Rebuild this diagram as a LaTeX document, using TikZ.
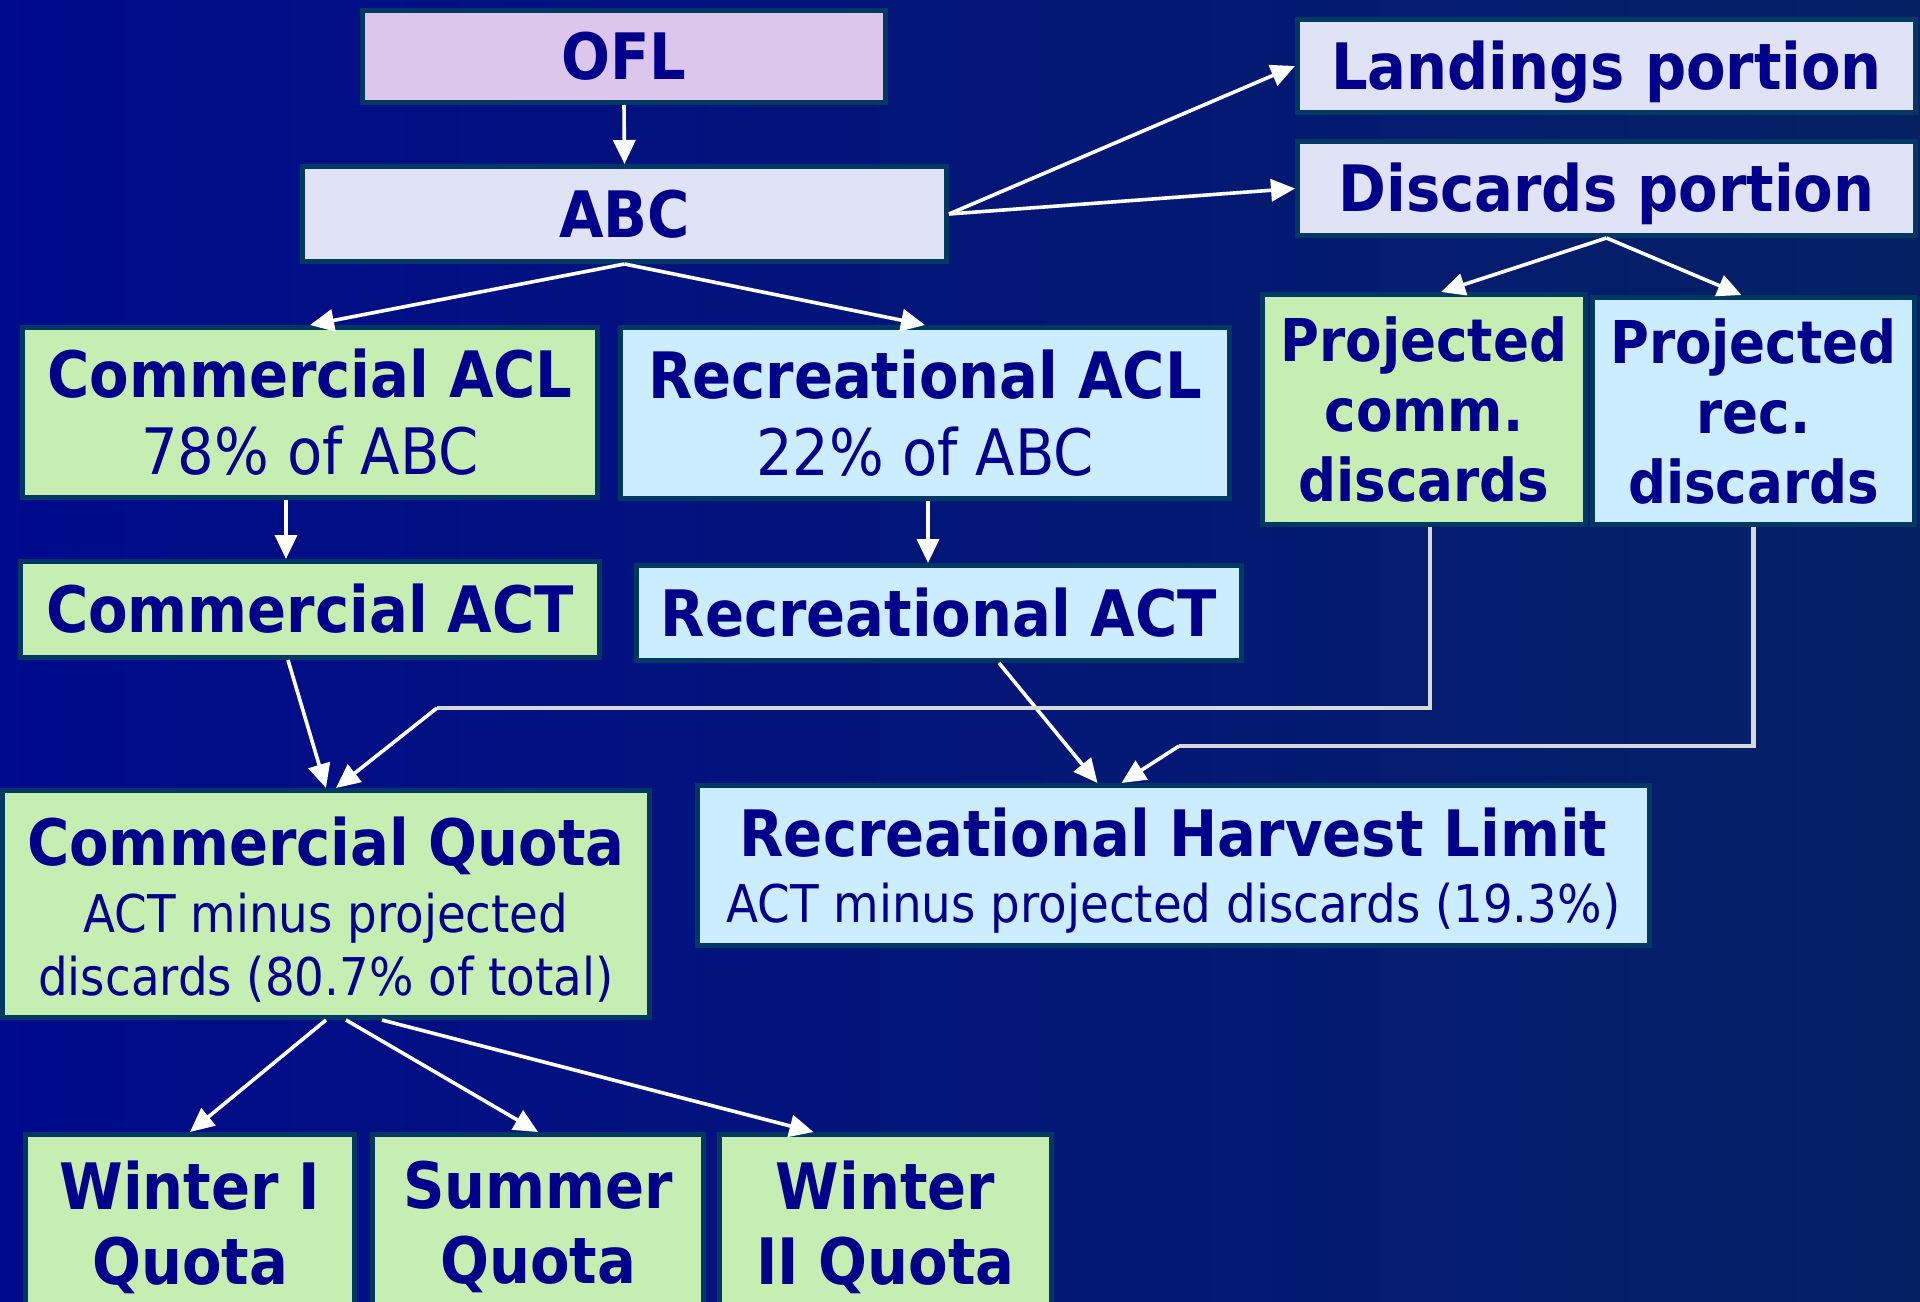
\documentclass[tikz,border=0pt]{standalone}
\usepackage{fontspec}
\setmainfont{DejaVu Sans Condensed}
\usepackage{xcolor}
\usepackage{tikz}
\usetikzlibrary{positioning, calc, arrows.meta}
\definecolor{BgLeft}{RGB}{0,10,140}
\definecolor{BgRight}{RGB}{5,33,100}
\definecolor{QuotaNavy}{RGB}{0,0,139}
\definecolor{QuotaEdge}{RGB}{0,56,100}
\definecolor{OFLPurple}{RGB}{220,198,236}
\definecolor{ABCLavender}{RGB}{224,226,245}
\definecolor{CommGreen}{RGB}{198,238,178}
\definecolor{RecBlue}{RGB}{204,236,255}
\definecolor{LinkGray}{RGB}{216,216,216}
\newcommand{\boxtitle}{\bfseries\fontsize{32}{38.5}\selectfont}
\newcommand{\toppad}{\rule{0pt}{29.5pt}}
\tikzset{
    quotabox/.style={
        draw=QuotaEdge, line width=2.5pt, inner sep=0pt, text=QuotaNavy, align=center
    },
    oneline/.style={
        text height=23.3pt, text depth=0pt
    },
    flow/.style={
        -{Triangle[length=12pt,width=11pt]}, white, line width=1.8pt
    },
    link/.style={
        LinkGray, line width=2.2pt
    }
}
\begin{document}
\begin{tikzpicture}[
            x=0.5pt, y=-0.5pt,
            % box kinds
            comm/.style={quotabox, fill=CommGreen},
            rec/.style={quotabox, fill=RecBlue},
            lav/.style={quotabox, fill=ABCLavender},
            season/.style={comm, minimum height=92.5pt,
                font=\bfseries\fontsize{32}{37.5}\selectfont}
        ]

            % --- 0. BACKGROUND ---
            \shade[left color=BgLeft, right color=BgRight] (0,0) rectangle (1920,1301);
            \useasboundingbox (0,0) rectangle (1920,1301);

            % --- 1. BOXES ---
            \node[quotabox, oneline, fill=OFLPurple, minimum width=261.5pt, minimum height=46pt] (ofl) at (624,56.5) {\boxtitle OFL};
            \node[lav, oneline, minimum width=322pt, minimum height=47.5pt] (abc) at (624.5,214) {\boxtitle ABC};
            \node[lav, oneline, minimum width=309pt, minimum height=46.5pt] (land) at (1606.5,66) {\boxtitle Landings portion};
            \node[lav, oneline, minimum width=309pt, minimum height=47pt] (disc) at (1606.5,188.5) {\boxtitle Discards portion};

            \node[comm, minimum width=287.5pt, minimum height=85pt, font=\fontsize{32}{38.5}\selectfont] (cacl) at (310,412.5)
                {{\bfseries Commercial ACL}\\78\% of ABC};
            \node[rec, minimum width=304.5pt, minimum height=85.5pt, font=\fontsize{32}{38.5}\selectfont] (racl) at (925,413)
                {{\bfseries Recreational ACL}\\22\% of ABC};
            \node[comm, minimum width=161.5pt, minimum height=115pt, font=\bfseries\fontsize{29.5}{35}\selectfont] (pcomm) at (1424,409.5)
                {Projected\\comm.\\discards};
            \node[rec, minimum width=161pt, minimum height=113.5pt, font=\bfseries\fontsize{29.5}{35}\selectfont] (prec) at (1753.5,411)
                {Projected\\rec.\\discards};

            \node[comm, oneline, minimum width=289.5pt, minimum height=48pt] (cact) at (310,609.5) {\boxtitle Commercial ACT};
            \node[rec, oneline, minimum width=302.5pt, minimum height=47.5pt] (ract) at (939,613) {\boxtitle Recreational ACT};

            \node[comm, minimum width=323.5pt, minimum height=113.5pt, font=\fontsize{26}{31.5}\selectfont] (cquota) at (326,904)
                {{\boxtitle\toppad Commercial Quota}\\[2pt]ACT minus projected\\discards (80.7\% of total)};
            \node[rec, minimum width=476pt, minimum height=80pt, font=\fontsize{26}{33}\selectfont] (rhl) at (1173.5,865.5)
                {{\boxtitle\toppad Recreational Harvest Limit}\\ACT minus projected discards (19.3\%)};

            \node[season, minimum width=164.5pt] (winterone) at (190,1227) {Winter I\\Quota};
            \node[season, minimum width=165.5pt] (summer) at (538,1227) {Summer\\Quota};
            \node[season, minimum width=166pt] (wintertwo) at (885.5,1227) {Winter\\II Quota};

            % --- 2. ARROWS ---
            \draw[flow] (ofl.south) -- (abc.north);
            \draw[flow] (abc.south) -- (cacl.north);
            \draw[flow] (abc.south) -- (racl.north);
            \draw[flow] (abc.east) -- (land.west);
            \draw[flow] (abc.east) -- (disc.west);
            \draw[flow] (disc.south) -- ([xshift=8.5pt]pcomm.north);
            \draw[flow] (disc.south) -- ([xshift=-6pt]prec.north);

            \draw[flow] ([xshift=-12pt]cacl.south) -- ([xshift=-12pt]cact.north);
            \draw[flow] ([xshift=1.5pt]racl.south) -- ([xshift=-5.5pt]ract.north);
            \draw[flow] ([xshift=-11pt]cact.south) -- (cquota.north);
            \draw[flow] ([xshift=30pt]ract.south) -- ([xshift=-38pt]rhl.north);

            % discards taken off the ACTs
            \coordinate (cbend) at (437,708);
            \coordinate (rbend) at (1179,746);
            \draw[link] ([xshift=3pt]pcomm.south) |- (cbend);
            \draw[flow] (cbend) -- ([xshift=5pt]cquota.north);
            \draw[link] (prec.south) |- (rbend);
            \draw[flow] (rbend) -- ([xshift=-26pt]rhl.north);

            % quota split by season
            \draw[flow] (cquota.south) -- (winterone.north);
            \draw[flow] ([xshift=10pt]cquota.south) -- (summer.north);
            \draw[flow] ([xshift=28pt]cquota.south) -- ([xshift=-36pt]wintertwo.north);

        \end{tikzpicture}
\end{document}
